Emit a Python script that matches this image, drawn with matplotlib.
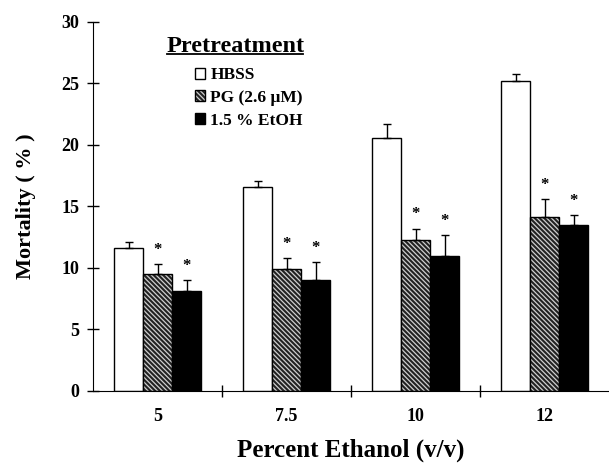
import matplotlib
matplotlib.use("Agg")
import matplotlib.pyplot as plt
from matplotlib.patches import Patch
from matplotlib.legend_handler import HandlerTuple
import numpy as np

categories = ["5", "7.5", "10", "12"]
hbss = [11.6, 16.6, 20.6, 25.2]
hbss_err = [0.5, 0.5, 1.1, 0.6]
pg = [9.5, 9.9, 12.3, 14.1]
pg_err = [0.8, 0.9, 0.9, 1.5]
etoh = [8.1, 9.0, 11.0, 13.5]
etoh_err = [0.9, 1.5, 1.7, 0.8]
series_names = ["HBSS", "PG (2.6 \u03bcM)", "1.5 % EtOH"]

plt.rcParams['font.family'] = ['Liberation Serif', 'DejaVu Serif']
plt.rcParams['font.weight'] = 'bold'
plt.rcParams['hatch.linewidth'] = 0.9

HATCH = '\\' * 7
PG_FACE = '#222222'
PG_LINE = '#cfcfcf'

fig = plt.figure(figsize=(6.09, 4.67), dpi=100)
ax = fig.add_axes([0.153, 0.163, 0.847, 0.79])

centers = np.arange(len(categories)) + 0.5
w = 0.225
ekw = dict(elinewidth=1, capsize=3, capthick=1, ecolor='black')
ax.bar(centers - w, hbss, w, color='white', edgecolor='black', linewidth=1)
ax.errorbar(centers - w, hbss, yerr=[np.zeros(4), hbss_err], fmt='none', **ekw)
ax.bar(centers, pg, w, facecolor=PG_FACE, edgecolor=PG_LINE, linewidth=0, hatch=HATCH)
ax.bar(centers, pg, w, fill=False, edgecolor='black', linewidth=1)
ax.errorbar(centers, pg, yerr=[np.zeros(4), pg_err], fmt='none', **ekw)
ax.bar(centers + w, etoh, w, color='black', edgecolor='black', linewidth=1)
ax.errorbar(centers + w, etoh, yerr=[np.zeros(4), etoh_err], fmt='none', **ekw)

for i in range(4):
    ax.text(centers[i], pg[i] + pg_err[i] + 0.5, '*', ha='center', va='bottom', fontsize=12)
    ax.text(centers[i] + w, etoh[i] + etoh_err[i] + 0.5, '*', ha='center', va='bottom', fontsize=12)

ax.set_xlim(0, 4)
ax.set_ylim(0, 30)
ax.set_yticks(np.arange(0, 31, 5))
ax.set_xticks(centers)
ax.set_xticklabels(categories)
ax.set_xticks([1, 2, 3], minor=True)
ax.tick_params(axis='x', which='major', length=0, pad=12, labelsize=13)
ax.tick_params(axis='x', which='minor', length=8, direction='inout', width=1)
ax.tick_params(axis='y', length=8, direction='inout', width=1, labelsize=13, pad=6)
for s in ['top', 'right']:
    ax.spines[s].set_visible(False)
ax.set_ylabel('Mortality ( % )', fontsize=16, fontweight='bold', labelpad=18)
ax.set_xlabel('Percent Ethanol (v/v)', fontsize=18, fontweight='bold', labelpad=10)

# legend
ax.text(0.143, 0.919, 'Pretreatment', transform=ax.transAxes, fontsize=17.5, fontweight='bold', ha='left', va='baseline')
ax.plot([0.143, 0.407], [0.912, 0.912], transform=ax.transAxes, color='black', lw=1.3, clip_on=False)
handles = [Patch(facecolor='white', edgecolor='black'),
           (Patch(facecolor=PG_FACE, edgecolor=PG_LINE, linewidth=0, hatch=HATCH),
            Patch(fill=False, edgecolor='black')),
           Patch(facecolor='black', edgecolor='black')]
leg = ax.legend(handles, series_names, loc='upper left', bbox_to_anchor=(0.197, 0.877),
                frameon=False, handlelength=0.6, handleheight=0.6, handletextpad=0.3,
                labelspacing=0.38, prop={'size': 12.5, 'weight': 'bold'}, borderaxespad=0,
                borderpad=0, handler_map={tuple: HandlerTuple(ndivide=1, pad=0)})

fig.savefig('out.png', dpi=100)
